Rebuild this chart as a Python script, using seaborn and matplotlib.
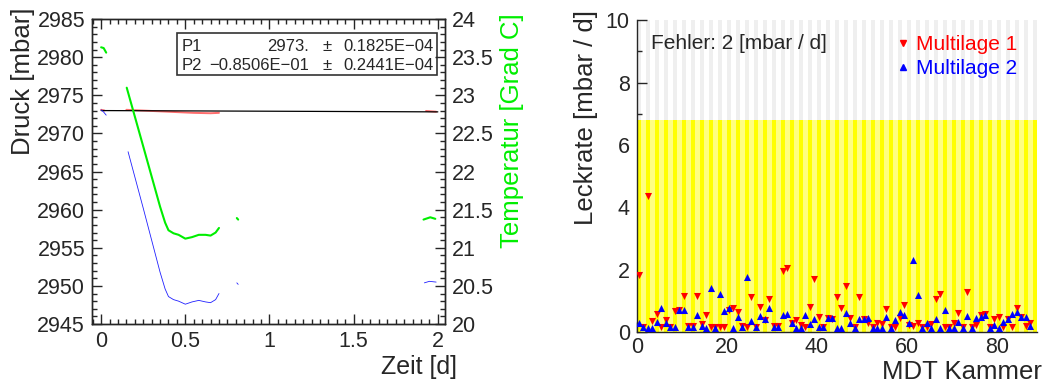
import numpy as np
import pandas as pd
import matplotlib
matplotlib.use("Agg")
import matplotlib.pyplot as plt
import seaborn as sns
from matplotlib.patches import Rectangle
from matplotlib.ticker import MultipleLocator
from matplotlib.lines import Line2D

# Fit-Parameter (Box links oben)
p1 = 2973.0
p2 = -0.08506

# Druck (blau), einzelne Messabschnitte
druck_t = [[0.0, 0.015, 0.03],
           [0.16, 0.25, 0.35, 0.38, 0.40, 0.43, 0.46, 0.50, 0.54, 0.58, 0.62, 0.65, 0.68, 0.70],
           [0.806, 0.814],
           [1.92, 1.95, 1.99]]
druck_p = [[2973.1, 2972.8, 2972.4],
           [2967.6, 2960.2, 2951.8, 2949.6, 2948.6, 2948.2, 2948.0, 2947.6, 2947.9, 2948.1, 2947.9, 2947.8, 2948.2, 2949.0],
           [2950.4, 2950.2],
           [2950.4, 2950.6, 2950.5]]

# korrigierter Druck (rot)
korr_t = [[0.0, 0.02],
          [0.15, 0.25, 0.35, 0.45, 0.55, 0.65, 0.70],
          [1.93, 1.96, 1.99]]
korr_p = [[2973.1, 2973.0],
          [2973.1, 2973.0, 2972.9, 2972.8, 2972.7, 2972.65, 2972.7],
          [2972.95, 2972.9, 2972.85]]

# Temperatur (gruen)
temp_t = [[0.0, 0.015, 0.03],
          [0.152, 0.25, 0.35, 0.38, 0.40, 0.43, 0.46, 0.50, 0.54, 0.58, 0.62, 0.65, 0.68, 0.70],
          [0.806, 0.814],
          [1.915, 1.955, 1.985]]
temp_T = [[23.63, 23.62, 23.56],
          [23.10, 22.33, 21.54, 21.33, 21.23, 21.19, 21.17, 21.12, 21.14, 21.17, 21.17, 21.16, 21.20, 21.26],
          [21.39, 21.37],
          [21.37, 21.40, 21.38]]

# Leckraten pro MDT Kammer
ml1 = [1.84, 0.18, 4.38, 0.37, 0.57, 0.18, 0.39, 0.17, 0.69, 0.72,
       1.17, 0.20, 0.20, 1.17, 0.26, 0.55, 0.18, 0.18, 0.18, 0.18,
       0.72, 0.79, 0.66, 0.21, 0.18, 1.14, 0.18, 0.82, 0.39, 1.06,
       0.21, 0.21, 1.97, 2.05, 0.31, 0.39, 0.23, 0.18, 0.82, 1.72,
       0.50, 0.18, 0.47, 0.42, 1.14, 0.78, 1.48, 0.47, 0.18, 1.14,
       0.42, 0.29, 0.18, 0.29, 0.26, 0.74, 0.18, 0.18, 0.45, 0.88,
       0.23, 0.21, 0.29, 0.18, 0.18, 0.26, 1.06, 1.24, 0.18, 0.18,
       0.29, 0.61, 0.18, 1.30, 0.18, 0.23, 0.55, 0.60, 0.18, 0.43,
       0.48, 0.18, 0.42, 0.18, 0.77, 0.50, 0.21, 0.31]
ml2 = [0.31, 0.18, 0.15, 0.15, 0.32, 0.78, 0.29, 0.17, 0.18, 0.73,
       0.72, 0.18, 0.17, 0.54, 0.20, 0.15, 1.43, 0.15, 1.23, 0.67,
       0.79, 0.15, 0.50, 0.18, 1.78, 0.37, 0.18, 0.52, 0.43, 0.79,
       0.18, 0.18, 0.55, 0.59, 0.29, 0.15, 0.15, 0.55, 0.26, 0.43,
       0.18, 0.18, 0.47, 0.45, 0.15, 0.15, 0.63, 0.29, 0.15, 0.42,
       0.42, 0.45, 0.15, 0.15, 0.15, 0.49, 0.15, 0.39, 0.66, 0.55,
       0.31, 2.32, 1.20, 0.15, 0.31, 0.15, 0.42, 0.15, 0.72, 0.15,
       0.15, 0.34, 0.15, 0.52, 0.15, 0.45, 0.50, 0.55, 0.15, 0.23,
       0.15, 0.34, 0.42, 0.58, 0.64, 0.50, 0.48, 0.21]
n_streifen = 89
grenze = 6.8
fehler = 2


def segmente(ts, ys, name):
    rows = []
    for k, (t, y) in enumerate(zip(ts, ys)):
        for a, b in zip(t, y):
            rows.append({"t": a, name: b, "seg": k})
    return pd.DataFrame(rows)


sns.set_style("ticks")
plt.rcParams["font.family"] = ["Liberation Sans", "DejaVu Sans"]
plt.rcParams["axes.linewidth"] = 1.0

fig = plt.figure(figsize=(10.46, 3.85), dpi=100)
ax = fig.add_axes([0.088, 0.1584, 0.3375, 0.792])
ax2 = ax.twinx()

# ---- linke Grafik: Druck und Temperatur ----
df_druck = segmente(druck_t, druck_p, "p")
df_korr = segmente(korr_t, korr_p, "p")
df_temp = segmente(temp_t, temp_T, "T")

sns.lineplot(data=df_korr, x="t", y="p", units="seg", estimator=None, sort=False,
             color="#ff3030", lw=1.4, alpha=0.7, ax=ax)
fit_t = [0.0, 2.0]
ax.plot(fit_t, [p1 + p2 * x for x in fit_t], color="black", lw=0.9)
sns.lineplot(data=df_druck, x="t", y="p", units="seg", estimator=None, sort=False,
             color="#2020ff", lw=0.6, ax=ax)
sns.lineplot(data=df_temp, x="t", y="T", units="seg", estimator=None, sort=False,
             color="#00ee00", lw=1.5, ax=ax2)

ax.set_xlim(-0.054, 2.043)
ax.set_ylim(2945, 2985)
ax2.set_ylim(20, 24)
ax.xaxis.set_major_locator(MultipleLocator(0.5))
ax.xaxis.set_minor_locator(MultipleLocator(0.05))
ax.yaxis.set_major_locator(MultipleLocator(5))
ax.yaxis.set_minor_locator(MultipleLocator(1))
ax2.yaxis.set_major_locator(MultipleLocator(0.5))
ax2.yaxis.set_minor_locator(MultipleLocator(0.1))
ax.set_xticks([0, 0.5, 1, 1.5, 2], ["0", "0.5", "1", "1.5", "2"])
ax2.set_yticks([20, 20.5, 21, 21.5, 22, 22.5, 23, 23.5, 24],
               ["20", "20.5", "21", "21.5", "22", "22.5", "23", "23.5", "24"])

ax.tick_params(which="both", direction="in", top=True, right=False, labelsize=15.5, pad=5)
ax.tick_params(which="major", length=7, width=1)
ax.tick_params(which="minor", length=3.5, width=1)
ax2.tick_params(which="both", direction="in", labelsize=15.5, pad=5)
ax2.tick_params(which="major", length=7, width=1)
ax2.tick_params(which="minor", length=3.5, width=1)

ax.set_xlabel("Zeit [d]", fontsize=18, loc="right")
ax.xaxis.set_label_coords(1.034, -0.10)
ax.set_ylabel("Druck [mbar]", fontsize=18.5, loc="top")
ax.yaxis.set_label_coords(-0.161, 1.039)
ax2.set_ylabel("Temperatur [Grad C]", fontsize=18.5, loc="top", color="#00ee00")
ax2.yaxis.set_label_coords(1.156, 1.02)

ax.add_patch(Rectangle((0.24, 0.816), 0.737, 0.14, transform=ax.transAxes,
                       fill=True, facecolor="white", edgecolor="#333333", lw=1.2, zorder=5))
zeilen = [("P1", "2973.", "0.1825E\u221204", 0.911),
          ("P2", "\u22120.8506E\u221201", "0.2441E\u221204", 0.849)]
for name, wert, err, yy in zeilen:
    ax.text(0.254, yy, name, transform=ax.transAxes, fontsize=12, va="center", zorder=6)
    ax.text(0.614, yy, wert, transform=ax.transAxes, fontsize=12, va="center", ha="right", zorder=6)
    ax.text(0.665, yy, "\u00b1", transform=ax.transAxes, fontsize=12, va="center", ha="center", zorder=6)
    ax.text(0.712, yy, err, transform=ax.transAxes, fontsize=12, va="center", zorder=6)

# ---- rechte Grafik: Leckrate ----
bx = fig.add_axes([0.6087, 0.1369, 0.3824, 0.811])
pos = np.arange(n_streifen) + 0.5
grau = ["#efefef" if i % 2 == 0 else "white" for i in range(n_streifen)]
gelb = ["#ffff00" if i % 2 == 0 else "#ffff80" for i in range(n_streifen)]
bx.bar(pos, [10] * n_streifen, width=1.0, color=grau, lw=0, zorder=0)
bx.bar(pos, [grenze] * n_streifen, width=1.0, color=gelb, lw=0, zorder=1)

df_leck = pd.DataFrame({"Kammer": np.arange(len(ml1)) + 0.5, "ml1": ml1, "ml2": ml2})
sns.scatterplot(data=df_leck, x="Kammer", y="ml1", marker="v", color="#ff0000",
                s=26, linewidth=0, ax=bx, zorder=3)
sns.scatterplot(data=df_leck, x="Kammer", y="ml2", marker="^", color="#0000ff",
                s=26, linewidth=0, ax=bx, zorder=4)

bx.set_xlim(0, 88.9)
bx.set_ylim(0, 10)
bx.xaxis.set_major_locator(MultipleLocator(20))
bx.xaxis.set_minor_locator(MultipleLocator(4))
bx.yaxis.set_major_locator(MultipleLocator(2))
bx.yaxis.set_minor_locator(MultipleLocator(1))
sns.despine(ax=bx)
bx.tick_params(which="both", direction="in", labelsize=15.5, pad=5)
bx.tick_params(axis="x", pad=3.5)
bx.tick_params(which="major", length=7, width=1)
bx.tick_params(which="minor", length=3.5, width=1)
bx.set_xlabel("MDT Kammer", fontsize=18.5, loc="right")
bx.xaxis.set_label_coords(1.013, -0.088)
bx.set_ylabel("Leckrate [mbar / d]", fontsize=18.5, loc="top")
bx.yaxis.set_label_coords(-0.097, 1.032)

bx.text(0.035, 0.926, f"Fehler: {fehler} [mbar / d]", transform=bx.transAxes,
        fontsize=15, va="center", zorder=6)
handles = [Line2D([], [], marker="v", color="#ff0000", ls="none", markersize=4),
           Line2D([], [], marker="^", color="#0000ff", ls="none", markersize=4)]
leg = bx.legend(handles, ["Multilage 1", "Multilage 2"], loc="upper left",
                bbox_to_anchor=(0.613, 0.998), frameon=False, fontsize=15,
                handlelength=0.6, handletextpad=0.33, labelspacing=0.25, borderpad=0.2)
for txt, c in zip(leg.get_texts(), ["#ff0000", "#0000ff"]):
    txt.set_color(c)

fig.savefig("out.png", dpi=100)
